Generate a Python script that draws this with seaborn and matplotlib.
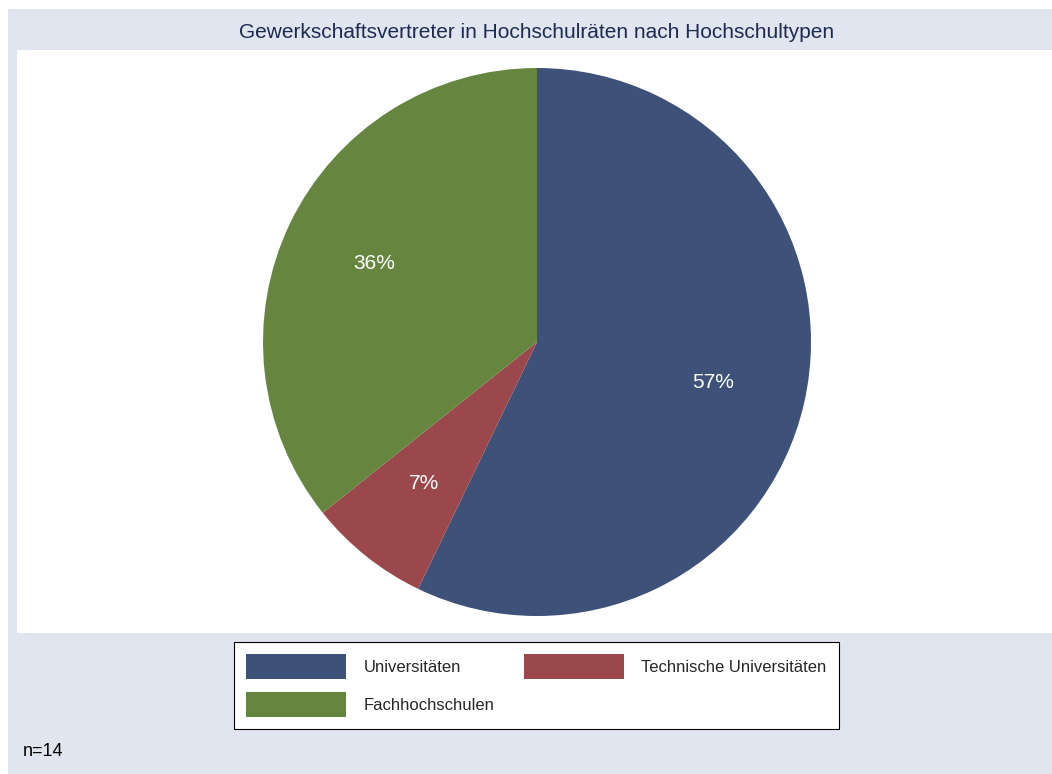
import matplotlib
matplotlib.use("Agg")
import matplotlib.pyplot as plt
from matplotlib.patches import Rectangle, Patch
import seaborn as sns

sns.set_theme(style="white")
plt.rcParams['font.family'] = ['Liberation Sans', 'DejaVu Sans']

categories = ["Universitäten", "Technische Universitäten", "Fachhochschulen"]
counts = [8, 1, 5]
colors = ["#3E5179", "#9B484C", "#66863F"]
title = "Gewerkschaftsvertreter in Hochschulräten nach Hochschultypen"
note = "n=14"

W, H = 1052, 774
fig = plt.figure(figsize=(W / 100, H / 100), dpi=100, facecolor="white")

def fx(x):
    return x / W

def fy(y):
    return 1 - y / H

# light outer background
fig.patches.append(Rectangle((fx(8), 0), 1 - fx(8), fy(9), transform=fig.transFigure,
                             facecolor="#E1E5F0", edgecolor="none", zorder=-10))

# plot region
ax = fig.add_axes([fx(17), fy(633), fx(1052) - fx(17), fy(50) - fy(633)])
ax.set_zorder(1)

cx, cy = 537 - 17, 633 - 342
r = 274
wedges, texts, autotexts = ax.pie(
    counts, colors=colors, startangle=90, counterclock=False, radius=r,
    center=(cx, cy), autopct=lambda p: f"{p:.0f}%", pctdistance=0.66,
    wedgeprops=dict(linewidth=0), textprops=dict(color="white", fontsize=15),
    frame=True)
ax.set_facecolor("white")
ax.set_xlim(0, 1052 - 17)
ax.set_ylim(0, 633 - 50)
ax.set_aspect("equal")
ax.set_xticks([])
ax.set_yticks([])
for s in ax.spines.values():
    s.set_visible(False)

fig.text(fx(537), fy(33), title, ha="center", va="center", fontsize=15, color="#1C2B4F")
fig.text(fx(23), fy(752), note, ha="left", va="center", fontsize=13, color="black")

order = [0, 2, 1]
handles = [Patch(facecolor=colors[i], edgecolor="none") for i in order]
labels = [categories[i] for i in order]
fs = 12
px = fs * 100 / 72
leg = fig.legend(handles, labels, loc="center",
                 bbox_to_anchor=(fx(536.5), fy(685.5)), ncol=2, fontsize=fs,
                 frameon=True, fancybox=False, shadow=False, framealpha=1,
                 handlelength=100 / px, handleheight=32 / px, handletextpad=17 / px,
                 columnspacing=30 / px, borderpad=12.5 / px, labelspacing=13 / px)
leg.get_frame().set_edgecolor("black")
leg.get_frame().set_linewidth(0.8)
leg.get_frame().set_facecolor("white")
leg.set_zorder(2)

fig.savefig("out.png", dpi=100, facecolor=fig.get_facecolor())
